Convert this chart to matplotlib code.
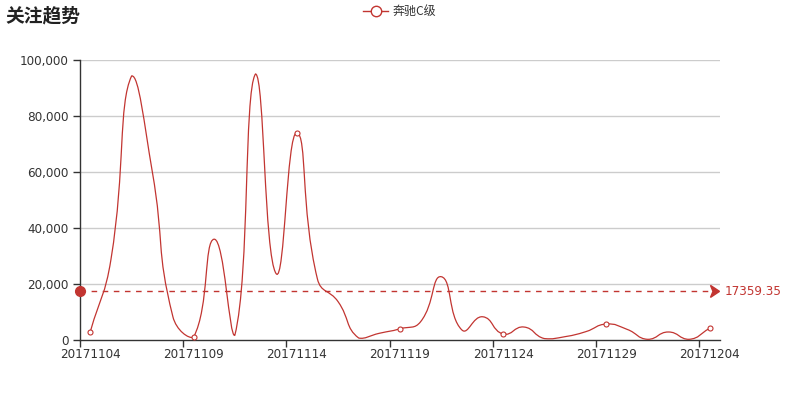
import numpy as np
import matplotlib
matplotlib.use("Agg")
import matplotlib.pyplot as plt
from matplotlib.path import Path
from matplotlib.patches import PathPatch, Polygon
from matplotlib.ticker import FuncFormatter, FixedLocator

plt.rcParams['font.family'] = ['DejaVu Sans', 'Noto Sans CJK SC']

# ---- data ----
dates = ["20171104", "20171105", "20171106", "20171107", "20171108", "20171109",
         "20171110", "20171111", "20171112", "20171113", "20171114", "20171115",
         "20171116", "20171117", "20171118", "20171119", "20171120", "20171121",
         "20171122", "20171123", "20171124", "20171125", "20171126", "20171127",
         "20171128", "20171129", "20171130", "20171201", "20171202", "20171203",
         "20171204"]
values = [3000, 28800, 94300, 60200, 8300, 1000, 36000, 1700, 95000, 23700,
          74000, 21800, 13700, 700, 2400, 4000, 6550, 22600, 3570, 8300,
          2140, 4640, 500, 1200, 2980, 5700, 3800, 240, 2860, 240, 4170]
series_name = "奔驰C级"
title = "关注趋势"
mean_label = "17359.35"
mean_value = 17359.35
yticks = [0, 20000, 40000, 60000, 80000, 100000]

RED = "#c23531"
DARK = "#333333"
W, H = 800, 400

fig = plt.figure(figsize=(8, 4), dpi=100)
ax = fig.add_axes([80 / W, 1 - 340 / H, 640 / W, 280 / H])
n = len(dates)
ax.set_xlim(0, n)
ax.set_ylim(0, 100000)

# axes styling
for s in ["top", "right"]:
    ax.spines[s].set_visible(False)
for s in ["left", "bottom"]:
    ax.spines[s].set_color(DARK)
    ax.spines[s].set_linewidth(1)
ax.yaxis.set_major_locator(FixedLocator(yticks))
ax.yaxis.set_major_formatter(FuncFormatter(lambda v, p: f"{int(v):,}"))
ax.tick_params(axis='y', length=5, width=1, color=DARK, labelcolor=DARK,
               labelsize=8.64, pad=3)
for y in yticks[1:]:
    ax.axhline(y, color="#cccccc", lw=1, zorder=0)

# x ticks at category boundaries every 5, labels at category centers
idx = list(range(0, n, 5))
ax.set_xticks([i for i in idx])
ax.set_xticklabels([])
ax.tick_params(axis='x', length=5, width=1, color=DARK)
for i in idx:
    ax.text(i + 0.5, -8 / 280 * 100000, dates[i], ha='center', va='top',
            fontsize=8.64, color=DARK, clip_on=False)

# ---- ECharts-like smooth curve computed in pixel space ----
fig.canvas.draw()
xs = np.arange(n) + 0.5
pts = ax.transData.transform(np.column_stack([xs, values]))
smooth = 0.5
mn = pts.min(axis=0)
mx = pts.max(axis=0)
cps0, cps1 = [], []
for i in range(n):
    p = pts[i]
    prev = pts[i - 1] if i > 0 else p
    nxt = pts[i + 1] if i < n - 1 else p
    v = (nxt - prev) * smooth
    d0 = np.hypot(*(p - prev))
    d1 = np.hypot(*(p - nxt))
    s = d0 + d1
    if s:
        d0 /= s
        d1 /= s
    c0 = np.clip(p - v * d0, mn, mx)
    c1 = np.clip(p + v * d1, mn, mx)
    cps0.append(c0)
    cps1.append(c1)
verts = [pts[0]]
codes = [Path.MOVETO]
for i in range(n - 1):
    verts += [cps1[i], cps0[i + 1], pts[i + 1]]
    codes += [Path.CURVE4] * 3
verts = ax.transData.inverted().transform(np.array(verts))
ax.add_patch(PathPatch(Path(verts, codes), fill=False, edgecolor=RED, lw=0.9,
                       zorder=3))

# symbols at labelled points
ax.plot([xs[i] for i in idx], [values[i] for i in idx], ls='none', marker='o',
        ms=3.6, mfc='white', mec=RED, mew=0.8, zorder=4)

# ---- mean mark line ----
ax.plot([0, n - 0.25], [mean_value, mean_value], ls=(0, (4, 4)), color=RED,
        lw=1, zorder=3, clip_on=False)
ax.plot([0], [mean_value], marker='o', ms=7, color=RED, zorder=5,
        clip_on=False)
# arrow head in pixel coords
my = ax.transData.transform((0, mean_value))[1]
tip = 719.5
arrow_px = np.array([[tip, my], [tip - 9, my + 6], [tip - 6.5, my],
                     [tip - 9, my - 6]])
arrow = ax.transData.inverted().transform(arrow_px)
ax.add_patch(Polygon(arrow, closed=True, color=RED, zorder=5, clip_on=False))
fig.text(725 / W, my / H, mean_label, ha='left', va='center', fontsize=8.64,
         color=RED)

# ---- title and legend ----
fig.text(5 / W, 1 - 15.5 / H, title, ha='left', va='center', fontsize=13.5,
         fontweight='bold', color='#222222', family=['Noto Sans CJK SC'])
ly = 1 - 11 / H
fig.add_artist(plt.Line2D([363 / W, 388 / W], [ly, ly], color=RED, lw=1,
                          transform=fig.transFigure))
fig.add_artist(plt.Line2D([375.5 / W], [ly], marker='o', ms=7.5, mfc='white',
                          mec=RED, mew=1, transform=fig.transFigure))
fig.text(393 / W, ly, series_name, ha='left', va='center', fontsize=8.64,
         color=DARK, family=['Noto Sans CJK SC'])

fig.savefig("out.png", dpi=100)
